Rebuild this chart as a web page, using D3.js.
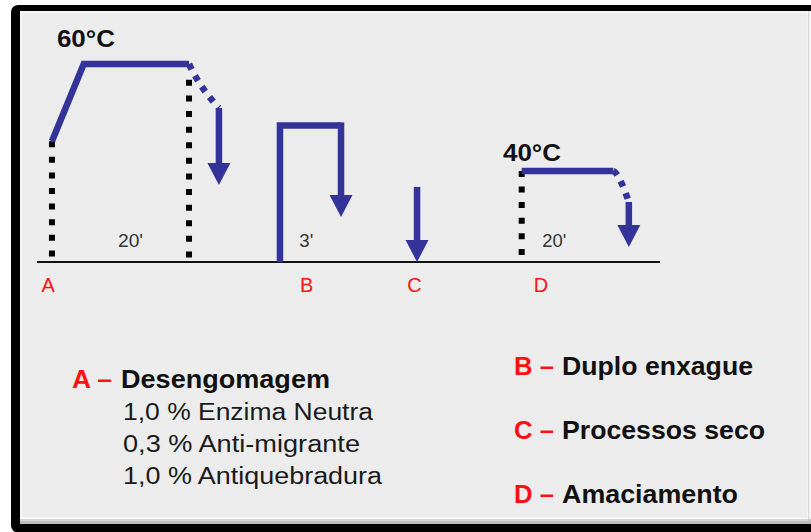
<!DOCTYPE html>
<html><head><meta charset="utf-8">
<script src="https://cdn.jsdelivr.net/npm/d3@7"></script>
<style>html,body{margin:0;padding:0;background:#fff;} svg{display:block;}</style>
</head><body><svg id="c" width="811" height="532"></svg>
<script>
// ---------- DATA (abstract units: x = process position 0..100, level = 0..100) ----------
const categories = ["A", "B", "C", "D"];
const categoryX = [1.8, 43.3, 60.6, 80.9];

const tempLabels = ["60°C", "40°C"];
const tempLabelX = [3.2, 74.8];
const tempLabelLevel = [108.6, 51.0];

const timeLabels = ["20'", "3'", "20'"];
const timeLabelX = [13.0, 42.1, 81.1];
const timeLabelLevel = [7.6, 7.6, 7.6];

// solid process lines
const lineA = [[2.4, 61], [7.5, 100], [24.4, 100]];
const lineB = [[39.0, 0], [39.0, 69], [48.8, 69]];
const lineD = [[77.8, 46], [92.5, 46]];

// dotted black guides (x, top level) down to the baseline
const guideX = [2.4, 24.4, 77.8];
const guideTop = [61, 92, 46];

// dashed blue curves (start, control, end)
const curveA = [[24.4, 100], [26.2, 87.9], [29.2, 77.8]];
const curveD = [[92.5, 46], [93.4, 44.9], [95.0, 30.3]];

// arrows: [x, fromLevel, toLevel]
const arrowX = [29.2, 48.8, 61.0, 95.0];
const arrowFrom = [77.8, 69, 37.9, 30.3];
const arrowTo = [38.9, 22.7, 0, 7.6];

// legend texts
const legendTitles = ["Desengomagem", "Duplo enxague", "Processos seco", "Amaciamento"];
const recipeLines = ["1,0 % Enzima Neutra", "0,3 % Anti-migrante", "1,0 % Antiquebradura"];

// ---------- DRAW ----------
const svg = d3.select("#c");
const FONT = "'Liberation Sans', Arial, Helvetica, sans-serif";
const BLUE = "#333399";
const RED = "#ff1010";

// frame
svg.append("rect").attr("x", 0).attr("y", 0).attr("width", 811).attr("height", 532).attr("fill", "#fff");
svg.append("rect").attr("x", 11).attr("y", 5).attr("width", 830).attr("height", 527.5).attr("rx", 7).attr("fill", "#000");
svg.append("rect").attr("x", 20).attr("y", 11).attr("width", 791).attr("height", 513).attr("fill", "#bdbdbd");
svg.append("rect").attr("x", 20).attr("y", 11).attr("width", 789).attr("height", 510).attr("fill", "#d6d6d6");
svg.append("rect").attr("x", 20).attr("y", 11).attr("width", 788).attr("height", 508).attr("fill", "#f6f6f6");
svg.append("rect").attr("x", 22).attr("y", 13).attr("width", 785).attr("height", 504).attr("fill", "#ececec");
svg.append("rect").attr("x", 809).attr("y", 11).attr("width", 2).attr("height", 508).attr("fill", "#f3f3f3");

const x = d3.scaleLinear().domain([0, 100]).range([37, 660]);
const y = d3.scaleLinear().domain([0, 100]).range([262, 64]);

// baseline
svg.append("line")
  .attr("x1", x(0)).attr("x2", x(100)).attr("y1", y(0)).attr("y2", y(0))
  .attr("stroke", "#111").attr("stroke-width", 2);

// dotted guides
guideX.forEach((gx, i) => {
  svg.append("line")
    .attr("x1", x(gx)).attr("x2", x(gx))
    .attr("y1", y(guideTop[i])).attr("y2", y(0))
    .attr("stroke", "#000").attr("stroke-width", 6)
    .attr("stroke-dasharray", "6,9.6");
});

const line = d3.line().x(d => x(d[0])).y(d => y(d[1]));
[lineA, lineB, lineD].forEach(pts => {
  svg.append("path").attr("d", line(pts))
    .attr("fill", "none").attr("stroke", BLUE).attr("stroke-width", 6.5)
    .attr("stroke-linejoin", "miter").attr("stroke-linecap", "butt");
});

// dashed curves
[curveA, curveD].forEach(c => {
  const p = d3.path();
  p.moveTo(x(c[0][0]), y(c[0][1]));
  p.quadraticCurveTo(x(c[1][0]), y(c[1][1]), x(c[2][0]), y(c[2][1]));
  svg.append("path").attr("d", p.toString())
    .attr("fill", "none").attr("stroke", BLUE).attr("stroke-width", 6.5)
    .attr("stroke-dasharray", "6,7");
});

// arrows
const headLen = 22, headHalf = 11.5;
arrowX.forEach((ax, i) => {
  const px = x(ax), y0 = y(arrowFrom[i]), y1 = y(arrowTo[i]);
  svg.append("line").attr("x1", px).attr("x2", px).attr("y1", y0 - (i === 1 ? 3 : 0)).attr("y2", y1 - headLen + 1)
    .attr("stroke", BLUE).attr("stroke-width", 6.5);
  svg.append("path")
    .attr("d", `M${px - headHalf},${y1 - headLen}L${px + headHalf},${y1 - headLen}L${px},${y1}Z`)
    .attr("fill", BLUE);
});

// temperature labels
tempLabels.forEach((t, i) => {
  svg.append("text").attr("x", x(tempLabelX[i])).attr("y", y(tempLabelLevel[i]))
    .attr("font-family", FONT).attr("font-weight", "bold").attr("font-size", 24)
    .attr("fill", "#111").attr("textLength", 58).attr("lengthAdjust", "spacingAndGlyphs").text(t);
});

// time labels
const timeW = [25, 14, 24];
timeLabels.forEach((t, i) => {
  svg.append("text").attr("x", x(timeLabelX[i])).attr("y", y(timeLabelLevel[i]))
    .attr("font-family", FONT).attr("font-size", 19)
    .attr("fill", "#333").attr("textLength", timeW[i]).attr("lengthAdjust", "spacingAndGlyphs").text(t);
});

// category labels
categories.forEach((c, i) => {
  svg.append("text").attr("x", x(categoryX[i])).attr("y", 292)
    .attr("text-anchor", "middle")
    .attr("font-family", FONT).attr("font-size", 20)
    .attr("fill", RED).text(c);
});

// legend
function legendItem(letter, title, lx, tx, by, tw) {
  svg.append("text").attr("x", lx).attr("y", by)
    .attr("font-family", FONT).attr("font-weight", "bold").attr("font-size", 25)
    .attr("fill", RED).attr("textLength", 40).attr("lengthAdjust", "spacingAndGlyphs").text(letter + " \u2013");
  svg.append("text").attr("x", tx).attr("y", by)
    .attr("font-family", FONT).attr("font-weight", "bold").attr("font-size", 25)
    .attr("fill", "#111").attr("textLength", tw).attr("lengthAdjust", "spacingAndGlyphs").text(title);
}
legendItem(categories[0], legendTitles[0], 72, 121, 388, 209);
legendItem(categories[1], legendTitles[1], 514, 562, 375, 191);
legendItem(categories[2], legendTitles[2], 514, 562, 439, 203);
legendItem(categories[3], legendTitles[3], 514, 562, 503, 176);

const recipeW = [250, 237, 259];
recipeLines.forEach((r, i) => {
  svg.append("text").attr("x", 123).attr("y", 420 + i * 32)
    .attr("font-family", FONT).attr("font-size", 23)
    .attr("fill", "#1a1a1a").attr("textLength", recipeW[i]).attr("lengthAdjust", "spacingAndGlyphs").text(r);
});
</script></body></html>
